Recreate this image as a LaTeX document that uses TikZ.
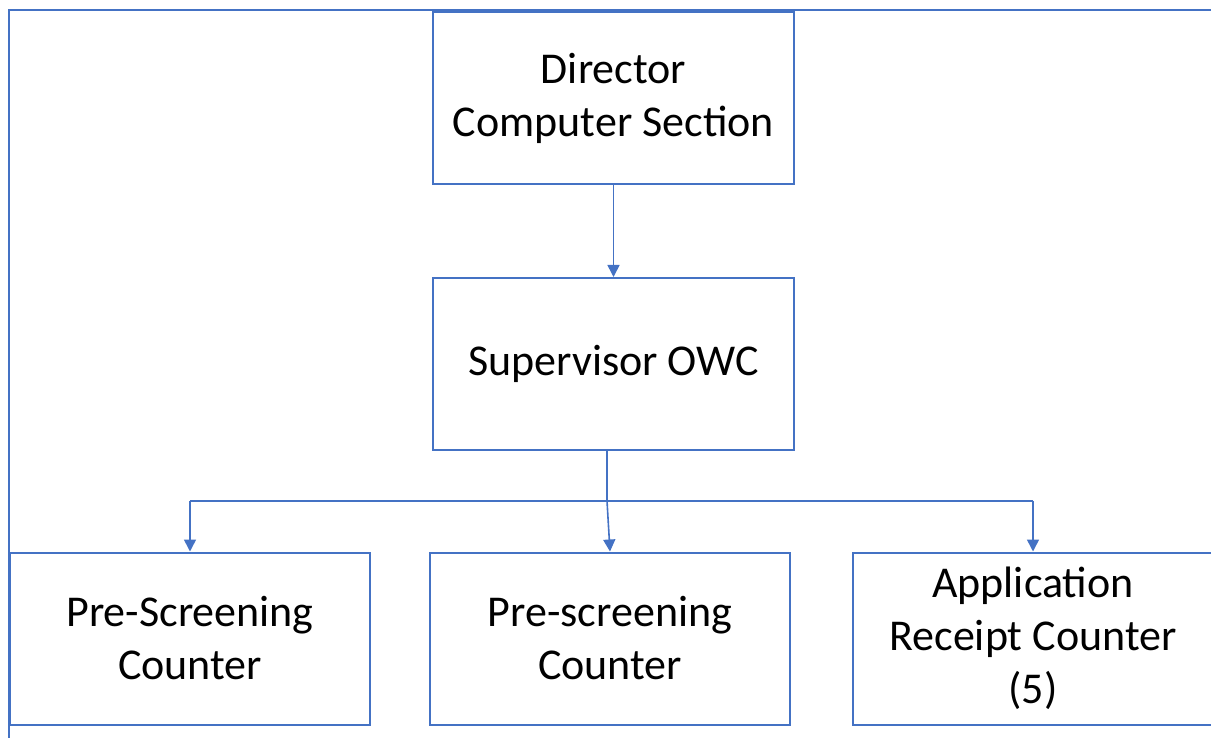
\documentclass[tikz,border=0pt]{standalone}
\usepackage{fontspec}
\setmainfont{Carlito}
\usepackage{tikz}
\usetikzlibrary{arrows.meta, positioning}
\definecolor{colorLinea}{HTML}{4472C4}

\begin{document}
\begin{tikzpicture}[
        x=1pt, y=-1pt,
        caja/.style={draw=colorLinea, line width=2pt, rectangle, align=center,
            minimum width=361pt, minimum height=172pt, inner sep=0pt,
            font=\fontsize{44}{53}\selectfont},
        rel/.style={-{Triangle[length=12pt, width=12pt]}, colorLinea, line width=1.6pt}
    ]
        \useasboundingbox (0,0) rectangle (1211,738);
        \clip (0,0) rectangle (1211,738);
        % marco exterior
        \draw[colorLinea, line width=2.2pt] (1215,10) -- (9,10) -- (9,745);

        \node[caja] (dir) at (613.5,98) {Director\\Computer Section};
        \node[caja, below=92pt of dir] (sup) {Supervisor OWC};
        \node[caja, minimum width=360pt] (pre1) at (190,638.5) {Pre-Screening\\Counter};
        \node[caja, minimum width=360pt] (pre2) at (610,638.5) {Pre-screening\\Counter};
        \node[caja, minimum width=360pt] (app) at (1033,638.5) {Application\\Receipt Counter\\(5)};

        \coordinate (bus) at (607,501);
        \draw[rel] (dir) -- (sup);
        \draw[colorLinea, line width=1.6pt] (sup.south -| bus) -- (bus);
        \draw[colorLinea, line width=1.6pt] (pre1 |- bus) -- (app |- bus);
        \draw[rel] (pre1 |- bus) -- (pre1.north);
        \draw[rel] (bus) -- (pre2.north);
        \draw[rel] (app |- bus) -- (app.north);
    \end{tikzpicture}
\end{document}
